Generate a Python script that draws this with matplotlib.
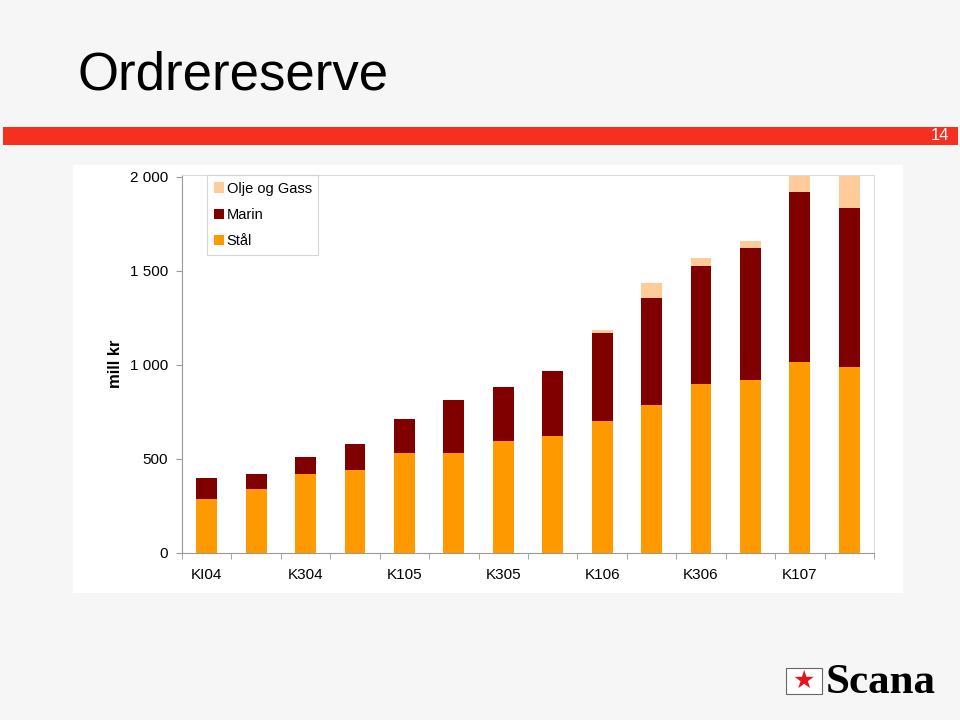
import matplotlib
matplotlib.use('Agg')
import matplotlib.pyplot as plt
from matplotlib.patches import Rectangle
import numpy as np

plt.rcParams['font.family'] = ['Liberation Sans', 'DejaVu Sans']

quarters = ['KI04', 'K204', 'K304', 'K404', 'K105', 'K205', 'K305',
            'K405', 'K106', 'K206', 'K306', 'K406', 'K107', 'K207']
staal = [287, 340, 420, 441, 532, 532, 597, 620, 700, 789, 899, 922, 1018, 987]
marin = [112, 80, 91, 140, 182, 280, 286, 348, 472, 567, 626, 700, 899, 848]
olje = [0, 0, 0, 0, 0, 0, 0, 0, 16, 82, 46, 38, 110, 190]

c_staal = '#ff9900'
c_marin = '#800000'
c_olje = '#ffcc99'

W, H = 960, 720
fig = plt.figure(figsize=(9.6, 7.2), dpi=100, facecolor='#f6f6f6')


def fx(px):
    return px / W


def fy(py):
    return 1 - py / H


# title and red band
fig.text(fx(77), fy(75), 'Ordrereserve', fontsize=38, va='center', ha='left')
fig.patches.append(Rectangle((fx(3), fy(145)), fx(955), (145 - 127) / H,
                             transform=fig.transFigure, facecolor='#f5301f',
                             edgecolor='none', zorder=-5))
fig.text(fx(949), fy(136), '14', color='white', fontsize=12,
         ha='right', va='center')

# white chart area
fig.patches.append(Rectangle((fx(73), fy(593)), fx(903 - 73), (593 - 165) / H,
                             transform=fig.transFigure, facecolor='white',
                             edgecolor='none', zorder=-5))

ax = fig.add_axes([fx(182), fy(553), fx(874 - 182), (553 - 175) / H])
ax.set_facecolor('white')

x = np.arange(len(quarters))
bottom2 = np.array(staal)
bottom3 = bottom2 + np.array(marin)
w = 0.42
b1 = ax.bar(x, staal, w, color=c_staal, label='Stål')
b2 = ax.bar(x, marin, w, bottom=bottom2, color=c_marin, label='Marin')
b3 = ax.bar(x, olje, w, bottom=bottom3, color=c_olje, label='Olje og Gass')

ax.set_xlim(-0.5, len(quarters) - 0.5)
ax.set_ylim(0, 2010)
ax.set_yticks([0, 500, 1000, 1500, 2000])
ax.set_yticklabels(['0', '500', '1 000', '1 500', '2 000'], fontsize=11)
ax.set_xticks(x[::2])
ax.set_xticklabels(quarters[::2], fontsize=11)
ax.set_xticks(np.arange(-0.5, len(quarters)), minor=True)
ax.tick_params(axis='x', which='major', length=0, pad=11)
ax.tick_params(axis='x', which='minor', length=4, color='#999999')
ax.tick_params(axis='y', length=4, color='#999999', pad=6)
for s in ['left', 'bottom']:
    ax.spines[s].set_color('#999999')
for s in ['top', 'right']:
    ax.spines[s].set_color('#dddddd')

ax.set_ylabel('mill kr', fontsize=12, fontweight='bold', labelpad=5)

leg = ax.legend([b3, b2, b1], ['Olje og Gass', 'Marin', 'Stål'],
                loc='upper left', bbox_to_anchor=(fx(207 - 182) / fx(874 - 182), 1.0),
                fontsize=10.5, frameon=True, fancybox=False, handlelength=0.7,
                handleheight=0.7, handletextpad=0.2, borderpad=0.45,
                labelspacing=0.85, borderaxespad=0.0)
leg.get_frame().set_edgecolor('#cccccc')
leg.get_frame().set_linewidth(0.8)

# Scana logo
fig.patches.append(Rectangle((fx(786), fy(694)), fx(36), 26 / H,
                             transform=fig.transFigure, facecolor='white',
                             edgecolor='#666666', linewidth=0.8))
fig.text(fx(804), fy(681), '★', color='#e8141c', fontsize=18,
         ha='center', va='center', family='DejaVu Sans')
fig.text(fx(826), fy(683), 'Scana', fontsize=31, fontweight='bold',
         family='Liberation Serif', ha='left', va='center')

fig.savefig('out.png', dpi=100, facecolor=fig.get_facecolor())
